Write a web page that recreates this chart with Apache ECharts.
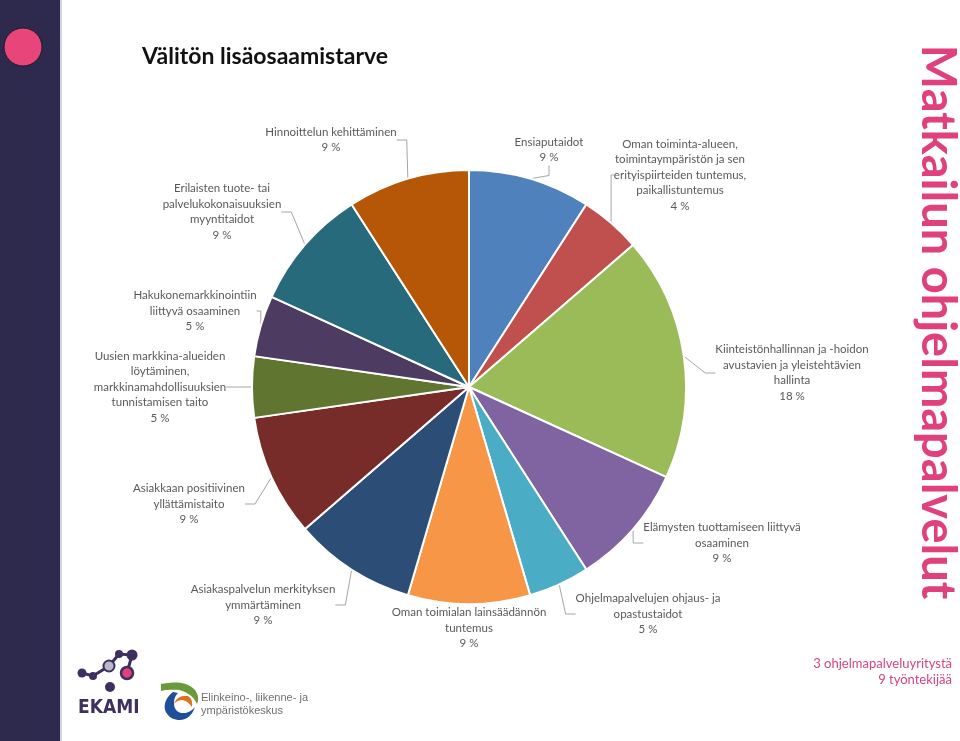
<!DOCTYPE html>
<html><head><meta charset="utf-8">
<script src="https://cdn.jsdelivr.net/npm/echarts@6/dist/echarts.min.js"></script>
<style>html,body{margin:0;padding:0;background:#fff}#c{width:960px;height:741px}</style>
</head><body><div id="c"></div>
<script>
const categories = [
  'Ensiaputaidot',
  'Oman toiminta-alueen,\ntoimintaympäristön ja sen\nerityispiirteiden tuntemus,\npaikallistuntemus',
  'Kiinteistönhallinnan ja -hoidon\navustavien ja yleistehtävien\nhallinta',
  'Elämysten tuottamiseen liittyvä\nosaaminen',
  'Ohjelmapalvelujen ohjaus- ja\nopastustaidot',
  'Oman toimialan lainsäädännön\ntuntemus',
  'Asiakaspalvelun merkityksen\nymmärtäminen',
  'Asiakkaan positiivinen\nyllättämistaito',
  'Uusien markkina-alueiden\nlöytäminen,\nmarkkinamahdollisuuksien\ntunnistamisen taito',
  'Hakukonemarkkinointiin\nliittyvä osaaminen',
  'Erilaisten tuote- tai\npalvelukokonaisuuksien\nmyyntitaidot',
  'Hinnoittelun kehittäminen'
];
const values = [2, 1, 4, 2, 1, 2, 2, 2, 1, 1, 2, 2];
const percentLabels = ['9 %', '4 %', '18 %', '9 %', '5 %', '9 %', '9 %', '9 %', '5 %', '5 %', '9 %', '9 %'];
const colors = ['#4f81bd', '#c0504d', '#9bbb59', '#8064a2', '#4bacc6', '#f79646',
                '#2c4d75', '#772c2a', '#5f7530', '#4d3b62', '#276a7c', '#b65708'];
const labelPos = [[549,150],[680,175],[792,373],[722,543],[648,614],[469,628],
                  [263,605],[189,504],[160,387],[195,311],[222,212],[331,140]];

// logo outline helper: start point followed by quadratic segments [cx,cy,x,y]
function quadShape(start, segs) {
  const pts = [start.slice()];
  let p = start;
  segs.forEach(s => {
    for (let t = 0.1; t <= 1.0001; t += 0.1) {
      const u = 1 - t;
      pts.push([u*u*p[0] + 2*u*t*s[0] + t*t*s[2], u*u*p[1] + 2*u*t*s[1] + t*t*s[3]]);
    }
    p = [s[2], s[3]];
  });
  return pts;
}
const greenLeaf = quadShape([161,684], [[185,679,195,690],[200,697,197,704],[192,693,179,690],[168,689,161,691]]);
const orangeLeaf = quadShape([174,704], [[177,695,188,696],[193,699,192,707],[187,700,181,700],[176,701,174,704]]);
const blueLeaf = quadShape([173,692], [[163,700,165,710],[169,720,180,720],[191,719,195,707],[189,714,181,713],[174,711,174,703],[174,697,178,693]]);

const chart = echarts.init(document.getElementById('c'), null, {renderer: 'canvas'});
const pink = '#e0407c';
const dark = '#3d3060';
chart.setOption({
  animation: false,
  backgroundColor: '#ffffff',
  title: {
    text: 'Välitön lisäosaamistarve', left: 137, top: 40,
    textStyle: {fontFamily: 'Lato', fontWeight: 'bold', fontSize: 23, color: '#111'}
  },
  graphic: [
    {type: 'rect', shape: {x: 0, y: 0, width: 60, height: 741}, style: {fill: '#2d2a4d'}},
    {type: 'rect', shape: {x: 60, y: 0, width: 2, height: 741}, style: {fill: '#d4d2e4'}},
    {type: 'circle', shape: {cx: 23, cy: 47, r: 19}, style: {fill: '#e8457a', stroke: '#1a1a2e', lineWidth: 1}},
    {type: 'text', x: 937, y: 322, rotation: -Math.PI / 2,
     style: {text: 'Matkailun ohjelmapalvelut', fill: pink, font: 'bold 47px Lato', align: 'center', verticalAlign: 'middle'}},
    {type: 'text', x: 952, y: 656,
     style: {text: '3 ohjelmapalveluyritystä\n9 työntekijää', fill: '#d6437e', font: '13px Lato', align: 'right', lineHeight: 16}},
    // EKAMI logo
    {type: 'polyline', shape: {points: [[82,673],[93,676],[109,666],[119,654],[132,655],[127,673]]}, style: {stroke: dark, lineWidth: 3, fill: null}},
    {type: 'circle', shape: {cx: 82, cy: 673, r: 4.5}, style: {fill: dark}},
    {type: 'circle', shape: {cx: 93, cy: 676, r: 4}, style: {fill: dark}},
    {type: 'circle', shape: {cx: 109, cy: 666, r: 5.5}, style: {fill: '#bdb7cc', stroke: dark, lineWidth: 2}},
    {type: 'circle', shape: {cx: 119, cy: 654, r: 4}, style: {fill: dark}},
    {type: 'circle', shape: {cx: 132, cy: 655, r: 5.5}, style: {fill: dark}},
    {type: 'circle', shape: {cx: 127, cy: 673, r: 6}, style: {fill: '#e0407c', stroke: dark, lineWidth: 2.5}},
    {type: 'circle', shape: {cx: 110, cy: 687, r: 5}, style: {fill: dark}},
    {type: 'text', x: 78, y: 699, style: {text: 'EKAMI', fill: dark, font: 'bold 19px "DejaVu Sans Condensed"'}},
    // ELY logo
    {type: 'polygon', shape: {points: greenLeaf}, style: {fill: '#6a9a3a'}},
    {type: 'polygon', shape: {points: orangeLeaf}, style: {fill: '#e07020'}},
    {type: 'polygon', shape: {points: blueLeaf}, style: {fill: '#1f4e9a'}},
    {type: 'text', x: 201, y: 691, style: {text: 'Elinkeino-, liikenne- ja\nympäristökeskus', fill: '#707070', font: '11px "Liberation Sans"', lineHeight: 13}}
  ],
  series: [{
    type: 'pie',
    center: [469, 387],
    radius: [0, 217],
    startAngle: 90,
    clockwise: true,
    avoidLabelOverlap: false,
    data: categories.map((n, i) => ({name: n, value: values[i], itemStyle: {color: colors[i]}})),
    itemStyle: {borderColor: '#ffffff', borderWidth: 2},
    label: {
      show: true,
      position: 'outside',
      formatter: p => p.name + '\n' + percentLabels[p.dataIndex],
      fontFamily: 'Lato', fontSize: 11.5, lineHeight: 15.5, color: '#595959', align: 'center'
    },
    labelLine: {show: true, length: 10, length2: 10, lineStyle: {color: '#a6a6a6', width: 1}},
    labelLayout: function (params) {
      const p = labelPos[params.dataIndex];
      return {x: p[0], y: p[1], align: 'center', verticalAlign: 'middle'};
    },
    emphasis: {disabled: true}
  }]
});
</script></body></html>
